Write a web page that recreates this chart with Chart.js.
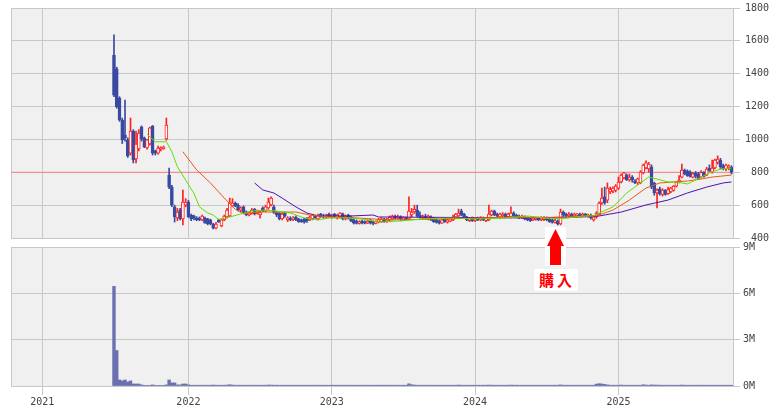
<!DOCTYPE html>
<html><head><meta charset="utf-8">
<script src="https://cdn.jsdelivr.net/npm/chart.js@4.4.1/dist/chart.umd.min.js"></script>
<style>
html,body{margin:0;padding:0;background:#fff;}
#wrap{position:relative;width:769px;height:405px;overflow:hidden;}
#price{position:absolute;left:0;top:0;}
#vol{position:absolute;left:0;top:238px;}
#arrow{position:absolute;top:227px;width:21px;height:39px;background:#fff;}
#buy{position:absolute;top:269px;width:44px;height:22px;background:#fff;color:#ff0000;font:bold 15px "Noto Sans CJK JP",sans-serif;line-height:22px;text-align:center;letter-spacing:3px;text-indent:3px;}
</style></head>
<body><div id="wrap">
<canvas id="price" width="769" height="246" style="width:769px;height:246px"></canvas>
<canvas id="vol" width="769" height="167" style="width:769px;height:167px"></canvas>
<div id="arrow"><svg width="21" height="39"><polygon points="10.5,2 2,19 5,19 5,38 16,38 16,19 19,19" fill="#ff0000"/></svg></div>
<div id="buy">購入</div>
</div>
<script>
// ---- data (weekly candles) ----
const firstWeek = 26;              // week index of first candle (0 = first week of 2021)
const yearWeeks = [0, 53, 105, 157, 209];
const yearLabels = ['2021', '2022', '2023', '2024', '2025'];
const weekMin = -11.36, weekMax = 250.56;
const referencePrice = 800;
const purchaseWeek = 186.2;
const purchaseLabel = '購入';

const opens = [
/*26*/ 1514,1430,1252,1118,1027,997,917,1051,881,942,
/*36*/ 1076,1009,948,972,1082,930,917,940,945,1003,
/*46*/ 783,710,589,522,570,516,600,619,540,534,
/*56*/ 522,522,510,522,516,510,485,460,510,473,
/*66*/ 510,528,534,595,613,600,570,589,560,540,
/*76*/ 550,575,550,540,583,565,583,601,589,555,
/*86*/ 550,516,550,510,522,510,528,516,510,516,
/*96*/ 522,510,516,534,516,546,534,528,546,528,
/*106*/ 546,522,530,546,516,540,528,510,503,488,
/*116*/ 503,500,491,510,500,488,497,500,516,500,
/*126*/ 510,516,534,520,530,510,522,516,540,558,
/*136*/ 570,540,522,534,516,528,516,510,505,491,
/*146*/ 516,497,503,510,528,534,564,546,528,505,
/*156*/ 522,505,522,510,522,505,510,540,564,546,
/*166*/ 528,534,546,530,528,552,540,534,522,528,
/*176*/ 522,516,510,512,522,510,512,522,516,510,
/*186*/ 495,505,485,558,546,534,546,534,540,546,
/*196*/ 534,546,530,540,510,528,546,613,650,631,
/*206*/ 680,685,690,704,741,765,783,753,771,747,
/*216*/ 735,735,796,826,820,832,735,674,700,665,
/*226*/ 690,670,680,690,716,741,771,814,808,800,
/*236*/ 770,796,790,770,800,783,826,800,826,860,
/*246*/ 875,840,820,826,830];
const highs = [
/*26*/ 1636,1440,1260,1130,1240,1010,1130,1060,1051,1060,
/*36*/ 1082,1015,1000,1075,1085,935,960,955,960,1130,
/*46*/ 826,720,600,580,580,692,640,630,545,540,
/*56*/ 530,528,540,528,520,515,490,495,515,515,
/*66*/ 540,580,643,640,620,610,590,595,565,560,
/*76*/ 580,580,570,565,590,600,643,650,600,560,
/*86*/ 555,555,560,530,530,530,535,520,515,520,
/*96*/ 525,535,545,540,545,550,545,545,552,545,
/*106*/ 550,545,555,552,540,545,535,515,510,505,
/*116*/ 510,505,510,512,505,505,520,525,520,520,
/*126*/ 535,540,540,540,535,530,528,650,580,600,
/*136*/ 600,560,540,545,540,535,525,515,510,515,
/*146*/ 520,520,525,540,550,576,575,550,532,525,
/*156*/ 528,525,528,530,528,525,600,570,570,552,
/*166*/ 552,555,552,552,590,560,545,540,540,535,
/*176*/ 528,522,530,528,528,530,530,528,520,515,
/*186*/ 515,510,576,565,552,555,552,552,550,552,
/*196*/ 552,550,545,545,530,560,620,704,710,735,
/*206*/ 710,712,725,771,790,800,790,790,780,755,
/*216*/ 765,810,850,869,860,845,740,700,710,700,
/*226*/ 695,710,710,720,745,780,850,820,815,810,
/*236*/ 800,805,800,810,805,830,845,875,880,900,
/*246*/ 885,850,850,845,840];
const lows = [
/*26*/ 1260,1190,1110,975,990,890,905,857,857,930,
/*36*/ 990,950,940,965,905,905,910,930,940,995,
/*46*/ 700,590,497,505,510,479,590,525,505,510,
/*56*/ 505,505,505,490,480,480,455,455,495,468,
/*66*/ 505,520,530,590,590,565,560,550,535,535,
/*76*/ 545,540,545,520,560,560,575,595,550,530,
/*86*/ 510,510,525,500,505,505,505,495,495,490,
/*96*/ 495,505,510,520,510,525,520,520,525,520,
/*106*/ 525,515,520,510,510,515,500,485,485,485,
/*116*/ 485,485,488,485,480,485,492,495,495,495,
/*126*/ 505,510,515,515,505,505,508,510,530,550,
/*136*/ 528,520,515,515,510,505,495,490,485,488,
/*146*/ 495,490,498,505,520,530,535,520,505,500,
/*156*/ 500,500,505,505,505,500,505,535,535,525,
/*166*/ 520,528,525,525,522,530,525,518,518,510,
/*176*/ 505,500,505,508,505,505,505,505,495,490,
/*186*/ 490,479,480,530,528,528,530,528,528,530,
/*196*/ 530,528,525,515,503,520,540,605,605,615,
/*206*/ 670,675,680,695,735,760,750,745,740,730,
/*216*/ 725,730,790,820,800,700,660,583,660,655,
/*226*/ 660,665,675,685,710,735,765,785,775,770,
/*236*/ 765,765,755,765,770,780,805,795,820,850,
/*246*/ 820,815,810,815,790];
const closes = [
/*26*/ 1270,1200,1118,997,1009,900,1051,875,972,1039,
/*36*/ 1003,954,997,1070,917,917,948,950,954,1088,
/*46*/ 710,600,528,558,516,619,619,528,516,522,
/*56*/ 510,510,534,491,485,485,460,485,497,510,
/*66*/ 534,570,619,613,595,570,583,555,540,555,
/*76*/ 570,546,565,555,565,590,619,643,555,540,
/*86*/ 516,546,534,522,510,522,510,500,500,497,
/*96*/ 505,528,540,522,540,530,528,540,530,540,
/*106*/ 530,540,552,516,534,522,503,491,488,500,
/*116*/ 491,490,503,491,488,500,512,516,500,510,
/*126*/ 528,534,520,530,516,522,512,564,558,575,
/*136*/ 534,528,534,522,534,510,500,495,491,510,
/*146*/ 500,510,516,528,546,552,540,525,510,518,
/*156*/ 505,516,510,522,510,520,546,564,540,534,
/*166*/ 546,546,530,546,552,534,530,522,534,516,
/*176*/ 510,505,522,522,510,522,522,510,500,495,
/*186*/ 505,485,558,540,534,546,536,546,546,534,
/*196*/ 546,534,540,522,528,552,613,643,613,704,
/*206*/ 695,704,716,741,783,796,753,771,753,735,
/*216*/ 760,802,844,857,850,710,674,692,670,692,
/*226*/ 665,695,704,716,741,753,814,790,780,775,
/*236*/ 790,775,760,800,775,820,810,826,875,880,
/*246*/ 832,820,844,840,800];
// weekly volume, millions of shares
const volumes = [
/*26*/ 6.45,2.3,0.39,0.33,0.39,0.26,0.33,0.13,0.13,0.13,
/*36*/ 0.07,0.04,0.04,0.04,0.07,0.04,0.04,0.04,0.04,0.07,
/*46*/ 0.39,0.2,0.2,0.07,0.07,0.13,0.13,0.07,0.05,0.05,
/*56*/ 0.05,0.05,0.05,0.05,0.05,0.05,0.06,0.05,0.05,0.05,
/*66*/ 0.05,0.06,0.08,0.06,0.05,0.05,0.05,0.05,0.05,0.05,
/*76*/ 0.05,0.05,0.05,0.05,0.05,0.05,0.06,0.06,0.05,0.05,
/*86*/ 0.05,0.05,0.05,0.05,0.05,0.05,0.05,0.05,0.05,0.05,
/*96*/ 0.05,0.05,0.05,0.05,0.05,0.05,0.05,0.05,0.05,0.05,
/*106*/ 0.05,0.05,0.05,0.05,0.05,0.05,0.05,0.05,0.05,0.05,
/*116*/ 0.05,0.05,0.05,0.05,0.05,0.05,0.05,0.05,0.05,0.05,
/*126*/ 0.05,0.05,0.05,0.05,0.05,0.05,0.05,0.14,0.08,0.06,
/*136*/ 0.05,0.05,0.05,0.05,0.05,0.05,0.05,0.05,0.05,0.05,
/*146*/ 0.05,0.05,0.05,0.05,0.05,0.06,0.05,0.05,0.05,0.05,
/*156*/ 0.05,0.05,0.05,0.05,0.05,0.05,0.06,0.05,0.05,0.05,
/*166*/ 0.05,0.05,0.05,0.05,0.06,0.05,0.05,0.05,0.05,0.05,
/*176*/ 0.05,0.05,0.05,0.05,0.05,0.05,0.05,0.05,0.05,0.05,
/*186*/ 0.05,0.05,0.07,0.05,0.05,0.05,0.05,0.05,0.05,0.05,
/*196*/ 0.05,0.05,0.05,0.05,0.05,0.12,0.15,0.13,0.1,0.07,
/*206*/ 0.05,0.05,0.05,0.05,0.06,0.05,0.05,0.05,0.05,0.05,
/*216*/ 0.05,0.05,0.08,0.06,0.05,0.07,0.06,0.06,0.05,0.05,
/*226*/ 0.05,0.05,0.05,0.05,0.05,0.05,0.06,0.05,0.05,0.05,
/*236*/ 0.05,0.05,0.05,0.05,0.05,0.05,0.05,0.05,0.05,0.05,
/*246*/ 0.05,0.05,0.05,0.05,0.05];
// moving averages (week index, value)
const ma13Weeks = [38,41,45,47,49,52,55,57,60,62,64,68,72,76,80,85,90,95,100,104,111,116,122,129,140,150,156,168,176,184,190,196,200,202,207,212,217,220,223,227,230,234,237,242,246,250];
const ma13Values = [1031,986,986,925,834,753,672,590,552,540,512,528,546,564,570,564,552,522,510,522,522,516,497,503,518,522,516,522,534,518,520,534,534,552,589,674,735,771,759,741,741,729,753,796,820,826];
const ma26Weeks = [51,56,61,66,70,73,75,80,85,92,97,104,111,126,140,154,169,181,195,202,207,213,219,224,229,234,239,243,250];
const ma26Values = [925,814,735,643,575,546,552,558,558,558,540,528,525,510,514,520,526,525,528,540,570,631,704,735,741,747,759,771,783];
const ma52Weeks = [77,80,84,87,92,96,100,112,120,122,150,175,195,202,210,219,227,234,241,247,250];
const ma52Values = [735,692,674,643,589,552,534,534,540,528,525,522,528,534,558,601,631,674,710,735,741];

// ---- styles ----
const UP = '#ff2020', DOWN = '#3a4aa2', VOL = '#6b70b0';
const GRID = '#c8c8c8', BG = '#f0f0f0';
const tickFont = {family: 'DejaVu Sans Mono', size: 10};
const tickColor = '#444';

const plotBg = {
  id: 'plotBg',
  beforeDraw(chart) {
    const {ctx, chartArea: a} = chart;
    ctx.save();
    ctx.fillStyle = BG;
    ctx.fillRect(a.left, a.top, a.right - a.left, a.bottom - a.top);
    ctx.strokeStyle = GRID; ctx.lineWidth = 1;
    ctx.beginPath(); ctx.moveTo(a.left + 0.5, a.top); ctx.lineTo(a.left + 0.5, a.bottom); ctx.stroke();
    ctx.restore();
  }
};

const weeks = opens.map((_, i) => firstWeek + i);
const wickData = weeks.map((w, i) => ({x: w, y: [lows[i], highs[i]], up: closes[i] >= opens[i]}));
const bodyData = weeks.map((w, i) => ({x: w, y: [opens[i], closes[i]], up: closes[i] >= opens[i]}));
const pts = (ws, vs) => ws.map((w, i) => ({x: w, y: vs[i]}));

const xYears = (showLabels, tickLen) => ({
  type: 'linear', min: weekMin, max: weekMax, offset: false,
  afterBuildTicks: ax => { ax.ticks = yearWeeks.map(v => ({value: v})); },
  grid: {color: GRID, offset: false, drawTicks: showLabels, tickLength: tickLen, tickColor: GRID},
  border: {display: false},
  ticks: {display: showLabels, font: tickFont, color: tickColor, padding: 1, maxRotation: 0, autoSkip: false,
    callback: v => { const k = yearWeeks.indexOf(v); return k >= 0 ? yearLabels[k] : ''; }},
  afterFit: ax => { ax.height = showLabels ? 19 : 0; }
});

const priceChart = new Chart(document.getElementById('price'), {
  type: 'bar',
  data: {datasets: [
    {type: 'line', data: pts(ma13Weeks, ma13Values), borderColor: '#5ee000', borderWidth: 1, pointRadius: 0, order: 1},
    {type: 'line', data: pts(ma26Weeks, ma26Values), borderColor: '#ee5a10', borderWidth: 1, pointRadius: 0, order: 1},
    {type: 'line', data: pts(ma52Weeks, ma52Values), borderColor: '#5010b0', borderWidth: 1, pointRadius: 0, order: 1},
    {type: 'bar', data: bodyData, grouped: false, barThickness: 3, borderWidth: 1, borderSkipped: false,
      backgroundColor: c => (c.raw && c.raw.up) ? '#ffffff' : DOWN,
      borderColor: c => (c.raw && c.raw.up) ? UP : DOWN, order: 2},
    {type: 'bar', data: wickData, grouped: false, barThickness: 1, borderWidth: 0,
      backgroundColor: c => (c.raw && c.raw.up) ? UP : DOWN, order: 3},
    {type: 'line', data: [{x: weekMin, y: referencePrice}, {x: weekMax, y: referencePrice}],
      borderColor: '#ff8080', borderWidth: 1, pointRadius: 0, order: 4}
  ]},
  options: {
    responsive: false, animation: false, events: [],
    layout: {padding: {left: 11, top: 0, right: 0, bottom: 0}},
    plugins: {legend: {display: false}, tooltip: {enabled: false}},
    scales: {
      x: xYears(false, 0),
      y: {position: 'right', min: 400, max: 1800,
        ticks: {stepSize: 200, font: tickFont, color: tickColor, padding: 2, crossAlign: 'far', callback: v => String(v)},
        grid: {color: GRID, tickLength: 7, tickColor: GRID},
        border: {display: true, color: GRID},
        afterFit: ax => { ax.width = 36; }}
    }
  },
  plugins: [plotBg]
});

const volChart = new Chart(document.getElementById('vol'), {
  type: 'bar',
  data: {datasets: [
    {data: weeks.map((w, i) => ({x: w, y: volumes[i]})), backgroundColor: VOL, borderWidth: 0,
      barPercentage: 1, categoryPercentage: 1}
  ]},
  options: {
    responsive: false, animation: false, events: [],
    layout: {padding: {left: 11, top: 0, right: 0, bottom: 0}},
    plugins: {legend: {display: false}, tooltip: {enabled: false}},
    scales: {
      x: xYears(true, 9),
      y: {position: 'right', min: 0, max: 9,
        ticks: {stepSize: 3, font: tickFont, color: tickColor, padding: 3, callback: v => v + 'M'},
        grid: {color: GRID, tickLength: 7, tickColor: GRID},
        border: {display: true, color: GRID},
        afterFit: ax => { ax.width = 36; }}
    }
  },
  plugins: [plotBg]
});

// purchase annotation positioned through the x scale
const px = priceChart.scales.x.getPixelForValue(purchaseWeek);
document.getElementById('arrow').style.left = (px - 10.5) + 'px';
const buy = document.getElementById('buy');
buy.textContent = purchaseLabel;
buy.style.left = (px - 22) + 'px';
</script>
</body></html>
